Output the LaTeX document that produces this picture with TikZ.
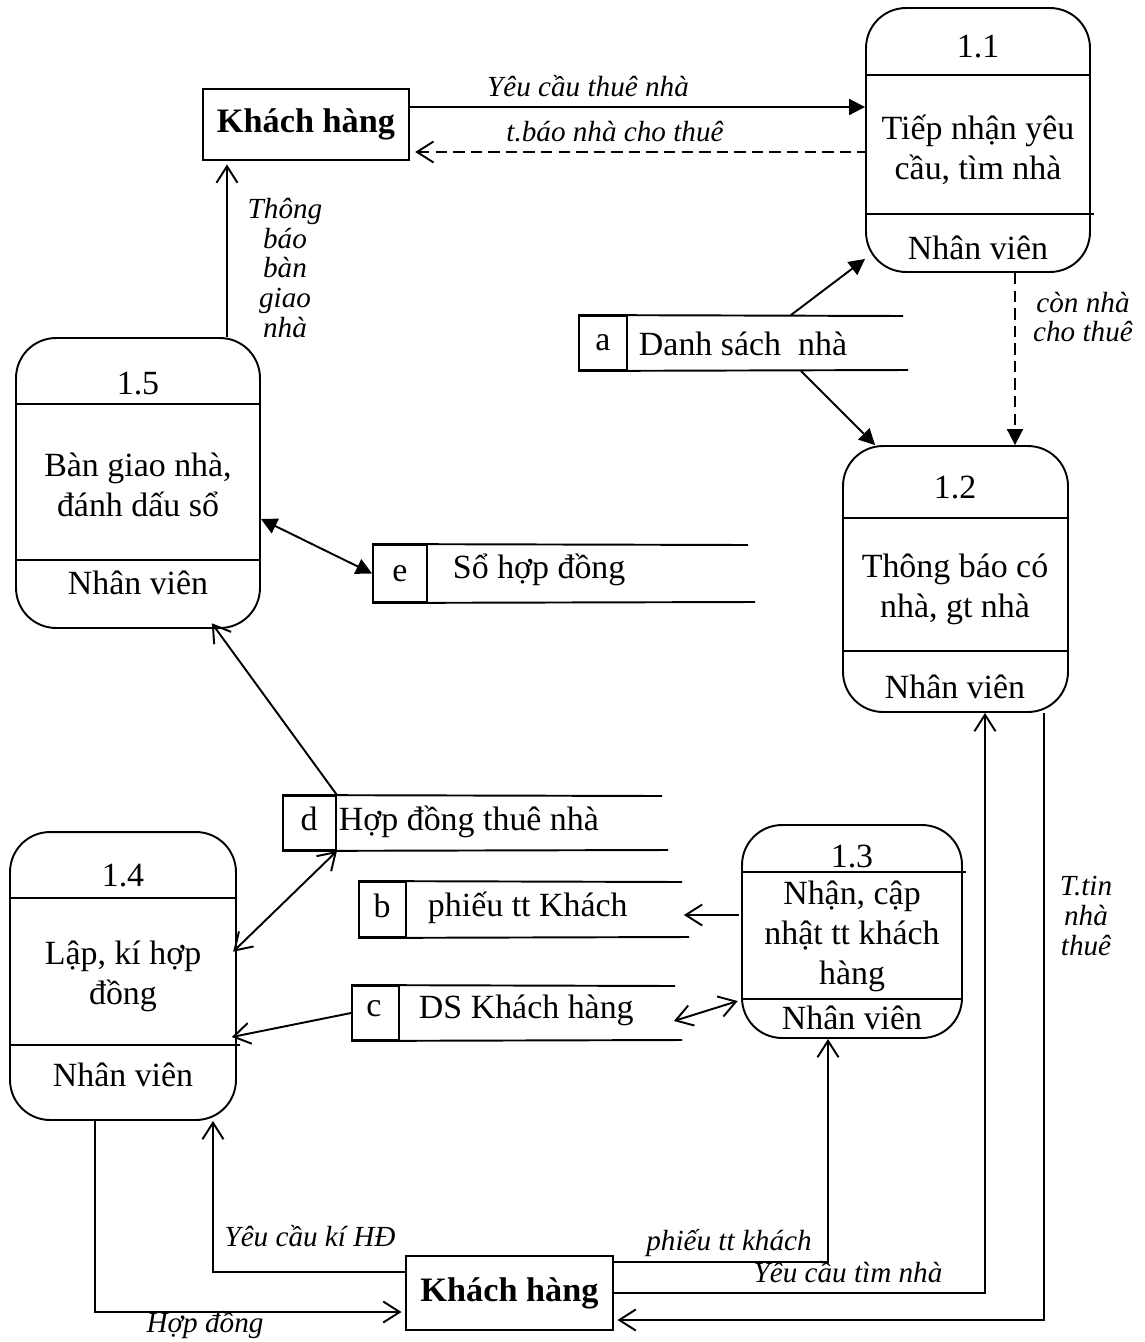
\documentclass[tikz,border=0pt]{standalone}
\usepackage{fontspec}
\setmainfont{Liberation Serif}
\usetikzlibrary{arrows.meta}

\begin{document}
\begin{tikzpicture}[x=0.02cm, y=-0.02cm, line width=1.1pt,
    proc/.style={draw, rounded corners=0.8cm, inner sep=0pt},
    ext/.style={draw, inner sep=0pt, font=\fontsize{19.5}{23}\selectfont\bfseries},
    box/.style={draw, inner sep=0pt},
    txt/.style={inner sep=0pt, align=center, font=\fontsize{19.3}{22.8}\selectfont},
    lbl/.style={inner sep=0pt, align=center, font=\fontsize{16.6}{16.8}\selectfont\itshape},
    longdash/.style={dash pattern=on 6.5pt off 3.5pt},
    op/.style={-{Straight Barb[length=0.33cm,width=0.42cm]}},
    opboth/.style={{Straight Barb[length=0.33cm,width=0.42cm]}-{Straight Barb[length=0.33cm,width=0.42cm]}},
    fl/.style={-{Triangle[length=0.32cm,width=0.32cm]}},
    flboth/.style={{Triangle[length=0.32cm,width=0.32cm]}-{Triangle[length=0.32cm,width=0.32cm]}}]
    \useasboundingbox (0,0) rectangle (1145,1342);

    % external entity (twice)
    \node[ext, minimum width=4.12cm, minimum height=1.42cm] (kh1) at (306,124.5) {Khách hàng};
    \node[ext, minimum width=4.14cm, minimum height=1.48cm] (kh2) at (509.5,1293) {Khách hàng};

    % processes
    \node[proc, minimum width=4.48cm, minimum height=5.28cm] (p11) at (978,140) {};
    \draw (p11.west |- 0,75) -- (p11.east |- 0,75);
    \draw (p11.west |- 0,214) -- ([xshift=2pt]p11.east |- 0,214);
    \node[txt] (p11n) at (978,47) {1.1};
    \node[txt] (p11t) at (978,150) {Tiếp nhận yêu\\cầu, tìm nhà};
    \node[txt] (p11a) at (978,248) {Nhân viên};

    \node[proc, minimum width=4.5cm, minimum height=5.32cm] (p12) at (955.5,579) {};
    \draw (p12.west |- 0,518) -- (p12.east |- 0,518);
    \draw (p12.west |- 0,651) -- (p12.east |- 0,651);
    \node[txt] (p12n) at (955,488) {1.2};
    \node[txt] (p12t) at (955,589) {Thông báo có\\nhà, gt nhà};
    \node[txt] (p12a) at (955,687) {Nhân viên};

    \node[proc, minimum width=4.4cm, minimum height=4.26cm] (p13) at (852,931.5) {};
    \draw (p13.west |- 0,872) -- ([xshift=2pt]p13.east |- 0,872);
    \draw (p13.west |- 0,999) -- (p13.east |- 0,999);
    \node[txt] (p13n) at (852,857) {1.3};
    \node[txt] (p13t) at (852,936) {Nhận, cập\\nhật tt khách\\hàng};
    \node[txt] (p13a) at (852,1018) {Nhân viên};

    \node[proc, minimum width=4.52cm, minimum height=5.76cm] (p14) at (123,976) {};
    \draw (p14.west |- 0,898) -- (p14.east |- 0,898);
    \draw (p14.west |- 0,1045) -- ([xshift=2pt]p14.east |- 0,1045);
    \node[txt] (p14n) at (123,876) {1.4};
    \node[txt] (p14t) at (123,976) {Lập, kí hợp\\đồng};
    \node[txt] (p14a) at (123,1075) {Nhân viên};

    \node[proc, minimum width=4.88cm, minimum height=5.8cm] (p15) at (138,483) {};
    \draw (p15.west |- 0,404) -- (p15.east |- 0,404);
    \draw (p15.west |- 0,560) -- (p15.east |- 0,560);
    \node[txt] (p15n) at (138,384) {1.5};
    \node[txt] (p15t) at (138,485) {Bàn giao nhà,\\đánh dấu sổ};
    \node[txt] (p15a) at (138,583) {Nhân viên};

    % data stores
    \node[box, minimum width=0.96cm, minimum height=1.08cm] (sa) at (603,343) {};
    \draw (sa.north west) -- (903,316);
    \draw (sa.south west) -- (908,370);
    \node[txt] (sal) at (sa) {a};
    \node[txt, anchor=west] (sat) at (638,344) {Danh sách\ \ nhà};

    \node[box, minimum width=1.08cm, minimum height=1.14cm] (se) at (400,573.5) {};
    \draw (se.north west) -- (748,545);
    \draw (se.south west) -- (755,602);
    \node[txt] (sel) at (se) {e};
    \node[txt, anchor=west] (set) at (452,570) {Sổ hợp đồng};

    \node[box, minimum width=1.06cm, minimum height=1.08cm] (sd) at (309.5,823) {};
    \draw (sd.north west) -- (662,796);
    \draw (sd.south west) -- (668,850);
    \node[txt] (sdl) at (309,819) {d};
    \node[txt, anchor=west] (sdt) at (338,822) {Hợp đồng thuê nhà};

    \node[box, minimum width=0.94cm, minimum height=1.1cm] (sb) at (382.5,909.5) {};
    \draw (sb.north west) -- (682,882);
    \draw (sb.south west) -- (689,937);
    \node[txt] (sbl) at (382,906) {b};
    \node[txt, anchor=west] (sbt) at (427,908) {phiếu tt Khách};

    \node[box, minimum width=0.94cm, minimum height=1.08cm] (sc) at (375.5,1013) {};
    \draw (sc.north west) -- (675,986);
    \draw (sc.south west) -- (682,1040);
    \node[txt] (scl) at (374,1009) {c};
    \node[txt, anchor=west] (sct) at (418,1010) {DS Khách hàng};

    % flows
    \draw[fl] ([yshift=0.35cm]kh1.east) coordinate (k1a) -- (k1a -| p11.west);
    \draw[longdash, {Straight Barb[length=0.33cm,width=0.42cm]}-, shorten <=3pt] ([yshift=-0.55cm]kh1.east) coordinate (k1b) -- (k1b -| p11.west);
    \node[lbl] (l1) at (588,86) {Yêu cầu thuê nhà};
    \node[lbl] (l2) at (615,132) {t.báo nhà cho thuê};

    \draw[op, shorten >=2pt] ([xshift=1.78cm]p15.north) coordinate (c15) -- (c15 |- kh1.south);
    \node[lbl] (l3) at (285,268) {Thông\\báo\\bàn\\giao\\nhà};

    \draw[fl] ([xshift=3.26cm]sa.north east) -- ([yshift=0.28cm]p11.south west);
    \draw[fl] ([xshift=3.46cm]sa.south east) -- ([xshift=0.66cm]p12.north west);
    \draw[fl, longdash] ([xshift=0.74cm]p11.south) coordinate (c11) -- (c11 |- p12.north);
    \node[lbl] (l4) at (1083,317) {còn nhà\\cho thuê};

    \draw[flboth] ([yshift=-0.72cm]p15.east) -- (se.west);
    \draw[op, shorten >=-4pt] (sd.north east) -- ([xshift=1.56cm]p15.south);
    \draw[opboth, shorten >=-3pt] (sd.south east) -- ([yshift=0.56cm]p14.east);
    \draw[op] ([xshift=-0.05cm]p13.west |- 0,915) coordinate (c13) -- ([xshift=5.54cm]sb.east |- c13);
    \draw[op, shorten >=-3pt] (sc.west) -- ([yshift=-1.2cm]p14.east);
    \draw[opboth, shorten >=2pt] ([shift={(5.48cm,-0.16cm)}]sc.east) -- ([yshift=-1.37cm]p13.west);

    \draw[op, shorten >=2pt] ([xshift=-0.56cm]p14.south) |- ([yshift=-0.38cm]kh2.west);
    \node[lbl] (l5) at (205,1325) {Hợp đồng};
    \draw[op] ([yshift=0.42cm]kh2.west) -| ([xshift=1.8cm]p14.south);
    \node[lbl] (l6) at (310,1236) {Yêu cầu kí HĐ};
    \draw[op] ([yshift=0.62cm]kh2.east) -| ([xshift=-0.48cm]p13.south);
    \node[lbl] (l7) at (729,1243) {phiếu tt khách};
    \draw[op] (kh2.east) -| ([xshift=0.59cm]p12.south);
    \node[lbl] (l8) at (848,1272) {Yêu cầu tìm nhà};
    \draw[op, shorten >=2pt] ([xshift=1.77cm]p12.south) |- ([yshift=-0.54cm]kh2.east);
    \node[lbl] (l9) at (1086,916) {T.tin\\nhà\\thuê};
\end{tikzpicture}
\end{document}
